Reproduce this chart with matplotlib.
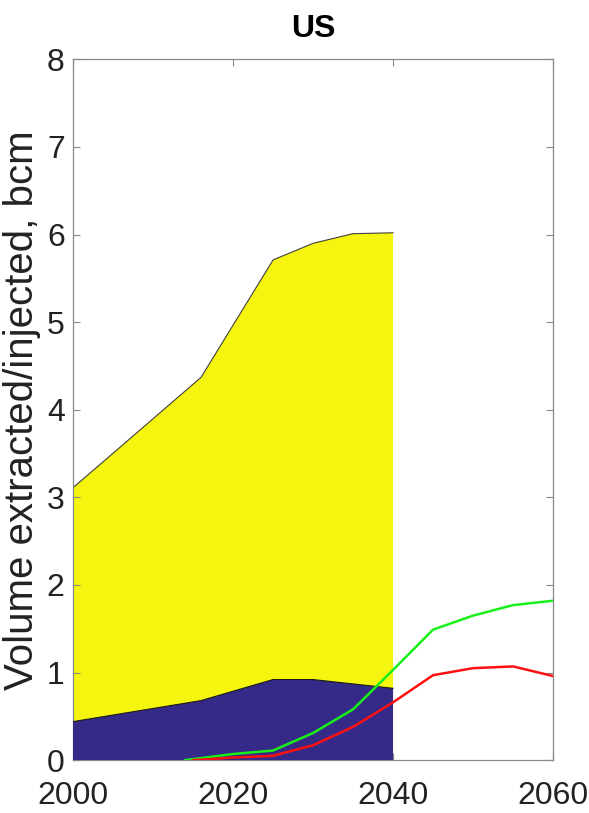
import matplotlib
matplotlib.use("Agg")
import matplotlib.pyplot as plt

# Data
years_hist = [2000, 2016, 2025, 2030, 2035, 2040]
total_vol = [3.11, 4.37, 5.71, 5.90, 6.01, 6.02]
base_vol = [0.44, 0.68, 0.92, 0.92, 0.87, 0.82]

years_green = [2014, 2020, 2025, 2030, 2035, 2040, 2045, 2050, 2055, 2060]
green_vals = [0.00, 0.07, 0.11, 0.31, 0.58, 1.03, 1.49, 1.65, 1.77, 1.82]

years_red = [2015, 2020, 2025, 2030, 2035, 2040, 2045, 2050, 2055, 2060]
red_vals = [0.00, 0.03, 0.05, 0.17, 0.38, 0.66, 0.97, 1.05, 1.07, 0.96]

x_ticks = [2000, 2020, 2040, 2060]
y_ticks = [0, 1, 2, 3, 4, 5, 6, 7, 8]

font = ['Liberation Sans', 'DejaVu Sans']

fig = plt.figure(figsize=(5.89, 8.13), dpi=100)
ax = fig.add_axes([0.124, 0.065, 0.815, 0.862])

ax.fill_between(years_hist, 0, total_vol, facecolor='#F5F50F', edgecolor='none', zorder=1)
ax.plot(years_hist, total_vol, color='#404040', lw=0.8, zorder=2)
ax.fill_between(years_hist, 0, base_vol, facecolor='#352A87', edgecolor='none', zorder=3)
ax.plot(years_hist, base_vol, color='#1a1a1a', lw=0.8, zorder=4)

ax.plot(years_green, green_vals, color='#19F019', lw=1.8, zorder=5)
ax.plot(years_red, red_vals, color='#FF1010', lw=1.8, zorder=6)

ax.set_xlim(2000, 2060)
ax.set_ylim(0, 8)
ax.set_xticks(x_ticks)
ax.set_yticks(y_ticks)
ax.tick_params(direction='in', length=5, width=0.8, color='#888888',
               top=True, right=True, labelsize=23, labelcolor='#222222')
ax.tick_params(axis='x', pad=15)
ax.tick_params(axis='y', pad=6)
for lbl in ax.get_xticklabels() + ax.get_yticklabels():
    lbl.set_family(font)
for s in ax.spines.values():
    s.set_color('#888888')
    s.set_linewidth(0.9)

ax.set_ylabel('Volume extracted/injected, bcm', fontsize=29, labelpad=4,
              family=font, color='#222222')
ax.set_title('US', fontsize=23, fontweight='bold', pad=16, family=font)

fig.savefig('out.png', dpi=100)
